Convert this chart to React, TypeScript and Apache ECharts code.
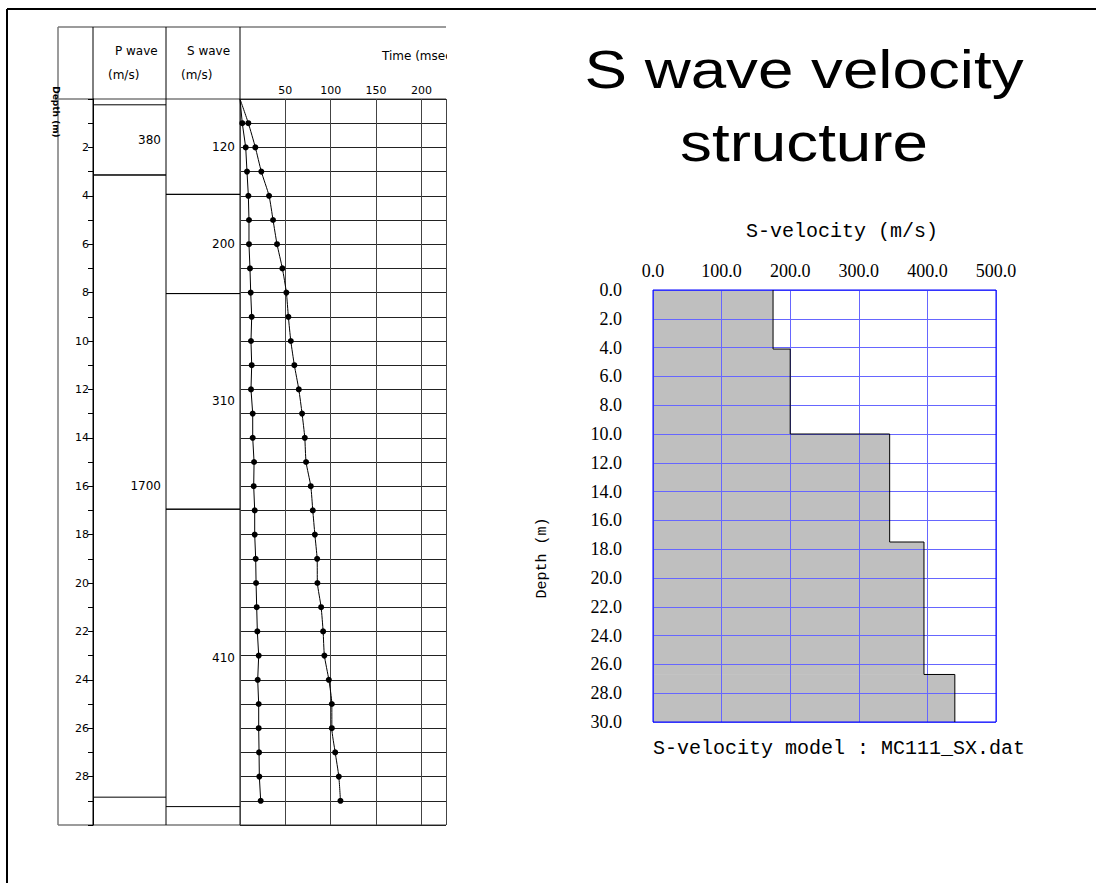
import React, { useEffect, useRef } from 'react';
import * as echarts from 'echarts';

// Receiver depths (m) and picked times (msec) in the left log
const receiverDepths = [1, 2, 3, 4, 5, 6, 7, 8, 9, 10, 11, 12, 13, 14, 15, 16, 17, 18, 19, 20, 21, 22, 23, 24, 25, 26, 27, 28, 29];
const timeA = [2.5, 6.3, 7.7, 9.2, 9.9, 9.9, 11.0, 11.8, 12.9, 12.1, 12.9, 12.1, 14.0, 14.0, 15.5, 15.1, 16.2, 16.2, 17.3, 17.7, 18.4, 19.1, 20.6, 19.5, 20.6, 20.6, 21.0, 21.3, 22.8];
const timeB = [9.2, 16.9, 23.5, 32.0, 36.4, 40.8, 46.7, 51.1, 53.3, 56.0, 59.9, 64.8, 68.4, 71.4, 72.8, 78.0, 80.2, 82.5, 85.0, 85.3, 89.4, 91.6, 93.0, 97.9, 101.2, 101.2, 104.9, 108.9, 110.7];

// P-wave layers (left log)
const pTops = [0.24, 3.14];
const pBottoms = [3.14, 28.85];
const pVelocity = [380, 1700];

// S-wave layers (left log)
const sTops = [0, 3.94, 8.04, 16.95];
const sBottoms = [3.94, 8.04, 16.95, 29.24];
const sVelocity = [120, 200, 310, 410];

// S-velocity model (right chart)
const modelTops = [0, 4.1, 10, 17.5, 26.7];
const modelBottoms = [4.1, 10, 17.5, 26.7, 30];
const modelVelocity = [175, 200, 345, 395, 440];

const SANS = 'DejaVu Sans';
const SERIF = 'Liberation Serif';
const MONO = 'Liberation Mono';

export default function App() {
  const ref = useRef<HTMLDivElement>(null);

  useEffect(() => {
    if (!ref.current) return;
    const chart = echarts.init(ref.current, null, { renderer: 'svg' });

    const layerItem = (params: any, api: any) => {
      const top = api.value(0);
      const bottom = api.value(1);
      const vel = api.value(2);
      const cs = params.coordSys;
      const x0 = cs.x;
      const x1 = cs.x + cs.width;
      const yTop = api.coord([0, top])[1];
      const yBot = api.coord([0, bottom])[1];
      const yMid = api.coord([0, (top + bottom) / 2])[1];
      const children: any[] = [];
      if (top > 0) {
        children.push({ type: 'line', shape: { x1: x0, y1: yTop, x2: x1, y2: yTop }, style: { stroke: '#000', lineWidth: 1 } });
      }
      children.push({ type: 'line', shape: { x1: x0, y1: yBot, x2: x1, y2: yBot }, style: { stroke: '#000', lineWidth: 1 } });
      children.push({
        type: 'text',
        x: x1 - 5,
        y: yMid,
        style: { text: String(vel), align: 'right', verticalAlign: 'middle', fontSize: 12, fontFamily: SANS, fill: '#000' },
      });
      return { type: 'group', children };
    };

    const modelRect = (params: any, api: any) => {
      const p0 = api.coord([0, api.value(0)]);
      const p1 = api.coord([api.value(2), api.value(1)]);
      return {
        type: 'rect',
        shape: { x: p0[0], y: p0[1], width: p1[0] - p0[0], height: p1[1] - p0[1] },
        style: { fill: 'rgba(0,0,0,0.25)' },
      };
    };

    const stepPoints: number[][] = [];
    modelVelocity.forEach((v, i) => {
      stepPoints.push([v, modelTops[i]]);
      stepPoints.push([v, modelBottoms[i]]);
    });

    const timeSeries = (times: number[]) => [
      { value: [0, 0], symbol: 'none' },
      ...times.map((t, i) => [t, receiverDepths[i]]),
    ];

    const hidden = { show: false };
    const gray = '#7a7a7a';

    chart.setOption({
      animation: false,
      textStyle: { fontFamily: SANS },
      grid: [
        { left: 240, top: 99, width: 206, height: 726 },
        { left: 93, top: 99, width: 73, height: 726 },
        { left: 166, top: 99, width: 74, height: 726 },
        { left: 653, top: 290, width: 343, height: 432, show: true, borderColor: '#0000ff', borderWidth: 1, backgroundColor: 'transparent', z: 6 },
      ],
      xAxis: [
        {
          gridIndex: 0, type: 'value', min: 0, max: 227, interval: 50, position: 'top',
          axisLine: hidden, axisTick: hidden,
          axisLabel: { margin: 3, fontSize: 11, fontFamily: SANS, color: '#000', formatter: (v: number) => (v > 0 && v % 50 === 0 ? String(v) : '') },
          splitLine: { show: true, lineStyle: { color: '#444', width: 1 } },
        },
        { gridIndex: 1, type: 'value', min: 0, max: 1, show: false },
        { gridIndex: 2, type: 'value', min: 0, max: 1, show: false },
        {
          gridIndex: 3, type: 'value', min: 0, max: 500, interval: 100, position: 'top', z: 5,
          axisLine: hidden, axisTick: hidden,
          axisLabel: { margin: 10, fontSize: 18, fontFamily: SERIF, color: '#000', formatter: (v: number) => v.toFixed(1) },
          splitLine: { show: true, lineStyle: { color: '#6666ff', width: 1 } },
        },
      ],
      yAxis: [
        {
          gridIndex: 0, type: 'value', min: 0, max: 30, interval: 1, inverse: true,
          axisLine: hidden, axisTick: hidden, axisLabel: hidden,
          splitLine: { show: true, lineStyle: { color: '#222', width: 1 } },
        },
        {
          gridIndex: 0, type: 'value', min: 0, max: 30, interval: 1, inverse: true, position: 'left', offset: 147,
          axisLine: { show: true, lineStyle: { color: '#000', width: 1 } },
          axisTick: { show: true, length: 5, lineStyle: { color: '#000' } },
          axisLabel: { margin: 4, fontSize: 11, fontFamily: SANS, color: '#000', formatter: (v: number) => (v > 0 && v < 30 && v % 2 === 0 ? String(v) : '') },
          splitLine: hidden,
        },
        { gridIndex: 1, type: 'value', min: 0, max: 30, inverse: true, show: false },
        { gridIndex: 2, type: 'value', min: 0, max: 30, inverse: true, show: false },
        {
          gridIndex: 3, type: 'value', min: 0, max: 30, interval: 2, inverse: true, z: 5,
          axisLine: hidden, axisTick: hidden,
          axisLabel: { margin: 31, fontSize: 18, fontFamily: SERIF, color: '#000', formatter: (v: number) => v.toFixed(1) },
          splitLine: { show: true, lineStyle: { color: '#6666ff', width: 1 } },
        },
      ],
      series: [
        {
          name: 'Time A', type: 'line', xAxisIndex: 0, yAxisIndex: 0,
          data: timeSeries(timeA), symbol: 'circle', symbolSize: 6,
          itemStyle: { color: '#000' }, lineStyle: { color: '#000', width: 1 }, z: 5,
        },
        {
          name: 'Time B', type: 'line', xAxisIndex: 0, yAxisIndex: 0,
          data: timeSeries(timeB), symbol: 'circle', symbolSize: 6, smooth: 0.2,
          itemStyle: { color: '#000' }, lineStyle: { color: '#000', width: 1 }, z: 5,
        },
        {
          name: 'P wave', type: 'custom', xAxisIndex: 1, yAxisIndex: 2,
          data: pTops.map((t, i) => [t, pBottoms[i], pVelocity[i]]),
          encode: { y: [0, 1] }, renderItem: layerItem,
        },
        {
          name: 'S wave', type: 'custom', xAxisIndex: 2, yAxisIndex: 3,
          data: sTops.map((t, i) => [t, sBottoms[i], sVelocity[i]]),
          encode: { y: [0, 1] }, renderItem: layerItem,
        },
        {
          name: 'S-velocity fill', type: 'custom', xAxisIndex: 3, yAxisIndex: 4, z: 1,
          data: modelTops.map((t, i) => [t, modelBottoms[i], modelVelocity[i]]),
          encode: { y: [0, 1] }, renderItem: modelRect,
        },
        {
          name: 'S-velocity', type: 'line', xAxisIndex: 3, yAxisIndex: 4, z: 8,
          data: stepPoints, symbol: 'none', lineStyle: { color: '#000', width: 1 },
        },
      ],
      graphic: [
        // slide frame
        { type: 'line', shape: { x1: 7, y1: 9, x2: 1096, y2: 9 }, style: { stroke: '#000', lineWidth: 2 } },
        { type: 'line', shape: { x1: 7, y1: 9, x2: 7, y2: 883 }, style: { stroke: '#000', lineWidth: 2 } },
        // left log frame
        { type: 'line', shape: { x1: 58, y1: 27, x2: 446, y2: 27 }, style: { stroke: gray, lineWidth: 1.5 } },
        { type: 'line', shape: { x1: 58, y1: 27, x2: 58, y2: 825 }, style: { stroke: gray, lineWidth: 1.5 } },
        { type: 'line', shape: { x1: 58, y1: 825, x2: 446, y2: 825 }, style: { stroke: gray, lineWidth: 1.5 } },
        { type: 'line', shape: { x1: 55, y1: 99, x2: 446, y2: 99 }, style: { stroke: gray, lineWidth: 1.5 } },
        { type: 'line', shape: { x1: 93, y1: 27, x2: 93, y2: 825 }, style: { stroke: '#000', lineWidth: 1 } },
        { type: 'line', shape: { x1: 166, y1: 27, x2: 166, y2: 825 }, style: { stroke: '#000', lineWidth: 1 } },
        { type: 'line', shape: { x1: 240, y1: 27, x2: 240, y2: 825 }, style: { stroke: '#000', lineWidth: 1 } },
        // headers
        { type: 'text', x: 115, y: 51, style: { text: 'P wave', fontSize: 12, fontFamily: SANS, fill: '#000', verticalAlign: 'middle' } },
        { type: 'text', x: 108, y: 75, style: { text: '(m/s)', fontSize: 12, fontFamily: SANS, fill: '#000', verticalAlign: 'middle' } },
        { type: 'text', x: 187, y: 51, style: { text: 'S wave', fontSize: 12, fontFamily: SANS, fill: '#000', verticalAlign: 'middle' } },
        { type: 'text', x: 181, y: 75, style: { text: '(m/s)', fontSize: 12, fontFamily: SANS, fill: '#000', verticalAlign: 'middle' } },
        { type: 'text', x: 382, y: 56, style: { text: 'Time (msec)', fontSize: 12, fontFamily: SANS, fill: '#000', verticalAlign: 'middle' } },
        { type: 'text', x: 56, y: 112, rotation: -Math.PI / 2, style: { text: 'Depth (m)', fontSize: 9, fontWeight: 'bold', fontFamily: SANS, fill: '#000', align: 'center', verticalAlign: 'middle' } },
        // clip cover for the cropped log
        { type: 'rect', shape: { x: 447, y: 20, width: 78, height: 820 }, style: { fill: '#fff' }, z: 100 },
        // right side texts
        { type: 'text', x: 804, y: 70, scaleX: 1.18, style: { text: 'S wave velocity', fontSize: 54, fontFamily: 'Liberation Sans', fill: '#000', align: 'center', verticalAlign: 'middle' } },
        { type: 'text', x: 804, y: 143, scaleX: 1.18, style: { text: 'structure', fontSize: 54, fontFamily: 'Liberation Sans', fill: '#000', align: 'center', verticalAlign: 'middle' } },
        { type: 'text', x: 842, y: 231, style: { text: 'S-velocity (m/s)', fontSize: 20, fontFamily: MONO, fill: '#000', align: 'center', verticalAlign: 'middle' } },
        { type: 'text', x: 542, y: 558, rotation: Math.PI / 2, style: { text: 'Depth (m)', fontSize: 15, fontFamily: MONO, fill: '#000', align: 'center', verticalAlign: 'middle' } },
        { type: 'text', x: 653, y: 748, style: { text: 'S-velocity model : MC111_SX.dat', fontSize: 20, fontFamily: MONO, fill: '#000', align: 'left', verticalAlign: 'middle' } },
      ],
    });

    return () => chart.dispose();
  }, []);

  return <div ref={ref} style={{ position: 'absolute', left: 0, top: 0, width: 1096, height: 883, background: '#fff' }} />;
}
